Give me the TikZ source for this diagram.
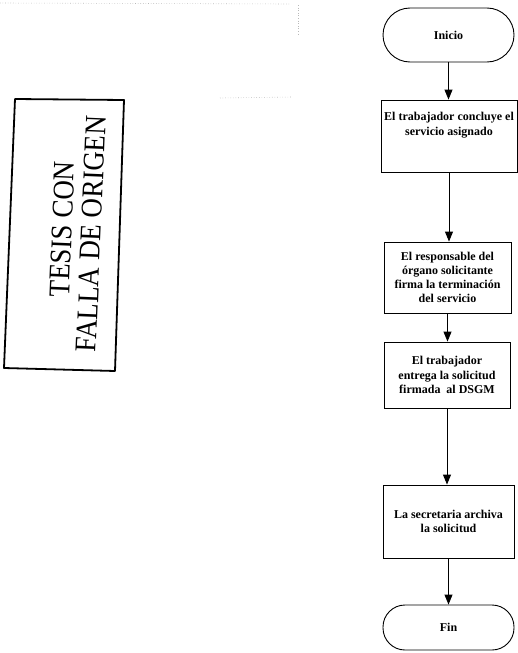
\documentclass[tikz,border=0pt]{standalone}
\usepackage{fontspec}
\setmainfont{Liberation Serif}
\usetikzlibrary{arrows.meta}
\begin{document}
\begin{tikzpicture}[x=1pt,y=-1pt,
  proc/.style={draw, line width=0.9pt, align=center, inner sep=2pt,
    font=\fontsize{12}{14.2}\selectfont\bfseries},
  term/.style={proc},
  lbl/.style={align=center, inner sep=0pt, font=\fontsize{12}{15.5}\selectfont\bfseries},
  flow/.style={-{Triangle[length=10pt,width=8pt]}, line width=0.9pt},
  stamptxt/.style={rotate=87.6, inner sep=0pt, text depth=0pt},
  noise/.style={gray!55, dotted, line width=0.6pt}]
\useasboundingbox (0,0) rectangle (518,653);

% scan noise
\draw[noise] (0,3) -- (290,4);
\draw[noise] (298,5) -- (298,35);
\draw[noise] (220,98) -- (292,97);

% stamp
\draw[line width=1.8pt, line join=round] (15,99) -- (124,100) -- (115,371) -- (4,368) -- cycle;
\node[stamptxt] (t1) at (62,229) {\scalebox{0.9}[1]{\fontsize{30}{30}\selectfont TESIS CON}};
\node[stamptxt] (t2) at (91,234) {\scalebox{0.9}[1]{\fontsize{30}{30}\selectfont FALLA DE ORIGEN}};

% flowchart
\node[term, minimum width=131pt, minimum height=54pt, rounded corners=27pt] (inicio) at (448.5,35) {Inicio};
\node[proc, minimum width=136pt, minimum height=72pt] (b1) at (449,136) {};
\node[lbl] (b1t) at (449,125) {El trabajador concluye el\\servicio asignado};
\node[proc, minimum width=127pt, minimum height=71pt] (b2) at (447.5,277.5)
  {El responsable del\\órgano solicitante\\firma la terminación\\del servicio};
\node[proc, minimum width=126pt, minimum height=66pt] (b3) at (447,375)
  {El trabajador\\entrega la solicitud\\firmada\ \ al DSGM};
\node[proc, minimum width=131pt, minimum height=73pt] (b4) at (448.5,521.5)
  {La secretaria archiva\\la solicitud};
\node[term, minimum width=131pt, minimum height=45pt, rounded corners=22pt] (fin) at (448.5,627.5) {Fin};

\draw[flow] (inicio.south) -- (inicio.south |- b1.north);
\draw[flow] (b1.south) -- (b1.south |- b2.north);
\draw[flow] (b2.south) -- (b2.south |- b3.north);
\draw[flow] (b3.south) -- (b3.south |- b4.north);
\draw[flow] (b4.south) -- (b4.south |- fin.north);
\end{tikzpicture}
\end{document}
